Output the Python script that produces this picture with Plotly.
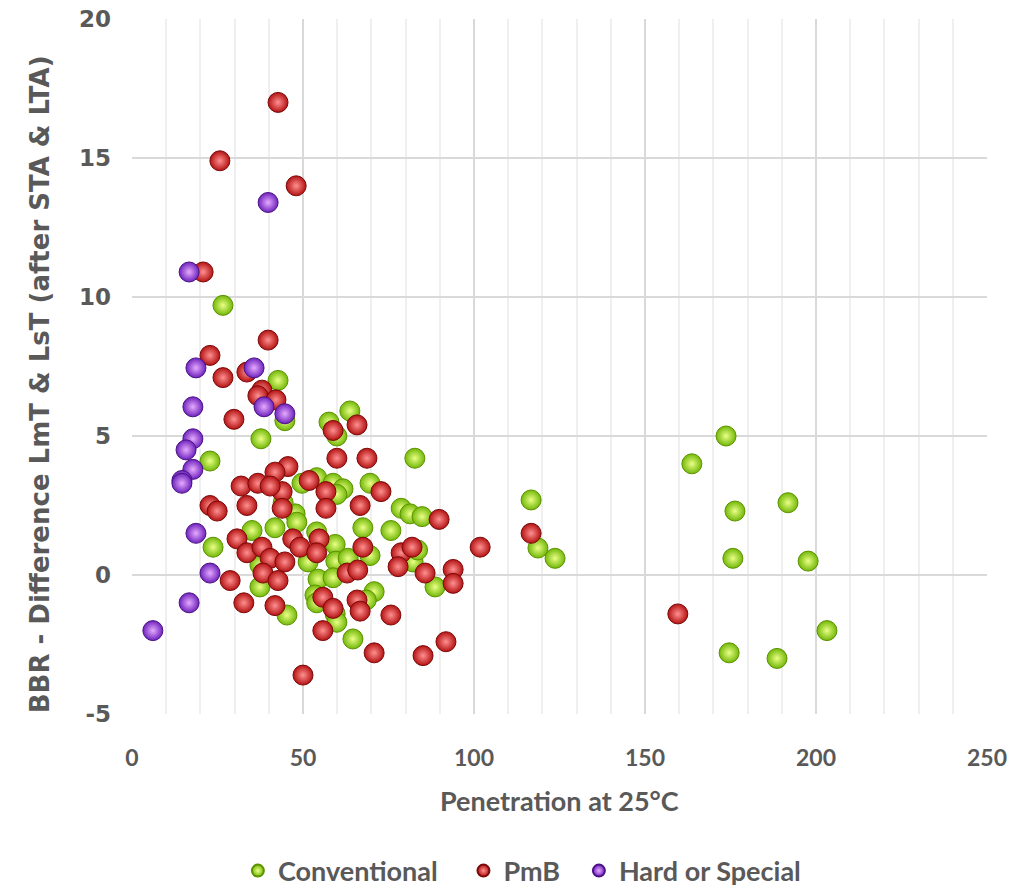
import plotly.graph_objects as go

# ---- data ----
conv_x = [26.6, 22.8, 23.7, 37.7, 42.7, 44.7, 57.6, 63.7, 59.9, 82.7,
          54.0, 49.7, 58.8, 61.7, 59.9, 69.6, 47.7, 78.7, 81.3, 84.8,
          67.5, 75.7, 41.8, 48.2, 35.1, 54.0, 59.4, 69.6, 82.2, 51.5,
          59.6, 63.2, 54.4, 58.8, 88.6, 37.4, 70.8, 53.5, 54.0, 59.4,
          59.9, 45.3, 64.6, 68.5, 83.5, 37.4, 44.2,
          116.7, 118.7, 123.7, 173.7, 163.7, 176.3, 191.8, 175.7, 197.7,
          203.2, 174.6, 188.6]
conv_y = [9.7, 4.1, 1.0, 4.9, 7.0, 5.55, 5.5, 5.9, 5.0, 4.2,
          3.5, 3.3, 3.3, 3.1, 2.9, 3.3, 2.2, 2.4, 2.2, 2.1,
          1.7, 1.6, 1.7, 1.9, 1.6, 1.55, 1.1, 0.7, 0.47, 0.47,
          0.5, 0.6, -0.15, -0.1, -0.43, -0.43, -0.6, -0.72, -1.0, -1.4,
          -1.7, -1.44, -2.3, -0.9, 0.9, 0.36, 2.6,
          2.7, 0.97, 0.6, 5.0, 4.0, 2.3, 2.6, 0.6, 0.5,
          -2.0, -2.8, -3.0]

pmb_x = [42.7, 25.7, 48.0, 20.8, 39.8, 22.8, 26.6, 33.6, 38.0, 36.8,
         42.1, 29.8, 58.8, 65.8, 59.9, 68.7, 45.6, 41.8, 51.8, 56.7,
         43.9, 72.8, 31.9, 36.8, 40.4, 22.8, 24.9, 33.6, 43.9, 56.7,
         66.7, 89.8, 47.0, 54.7, 49.1, 67.5, 78.7, 81.9, 101.8, 30.7,
         33.6, 38.0, 40.4, 44.7, 38.3, 42.7, 28.7, 54.0, 62.9, 66.0,
         77.8, 85.7, 93.9, 93.9, 55.8, 58.8, 65.8, 66.7, 75.7, 32.7,
         41.8, 55.8, 70.8, 85.1, 91.8, 50.0, 116.7, 159.6]
pmb_y = [17.0, 14.9, 14.0, 10.9, 8.45, 7.9, 7.1, 7.3, 6.65, 6.45,
         6.3, 5.6, 5.2, 5.4, 4.2, 4.2, 3.9, 3.7, 3.4, 3.0,
         3.0, 3.0, 3.2, 3.3, 3.2, 2.5, 2.3, 2.5, 2.4, 2.4,
         2.5, 2.0, 1.3, 1.3, 1.0, 1.0, 0.8, 1.0, 1.0, 1.3,
         0.8, 1.0, 0.6, 0.47, 0.07, -0.2, -0.2, 0.8, 0.07, 0.18,
         0.3, 0.07, 0.2, -0.3, -0.8, -1.2, -0.9, -1.3, -1.44, -1.0,
         -1.1, -2.0, -2.8, -2.9, -2.4, -3.6, 1.5, -1.4]

hard_x = [16.7, 39.8, 18.7, 35.7, 38.6, 17.8, 44.7, 17.8, 15.8, 17.8,
          14.6, 14.6, 18.7, 22.8, 16.7, 6.1]
hard_y = [10.9, 13.4, 7.45, 7.45, 6.05, 6.05, 5.8, 4.9, 4.5, 3.8,
          3.4, 3.3, 1.5, 0.07, -1.0, -2.0]

x_ticks = [0, 50, 100, 150, 200, 250]
x_tick_text = ["0", "50", "100", "150", "200", "250"]
y_ticks = [-5, 0, 5, 10, 15, 20]
y_tick_text = ["-5", "0", "5", "10", "15", "20"]

series = [
    ("Conventional", conv_x, conv_y, "#72b808", "#eaff86", "#5c9200", "\u00a0\u00a0\u00a0"),
    ("PmB", pmb_x, pmb_y, "#b41212", "#ff9090", "#7a0a0a", "\u00a0\u00a0"),
    ("Hard or Special", hard_x, hard_y, "#6e22bc", "#e6aaff", "#4a1285", ""),
]

fig = go.Figure()
for name, xs, ys, edge, center, line, pad in series:
    fig.add_trace(go.Scatter(
        x=xs, y=ys, mode="markers", name="<b>" + name + "</b>" + pad,
        marker=dict(size=20, color=edge,
                    gradient=dict(type="radial", color=center),
                    line=dict(color=line, width=1)),
    ))

tick_col = "#595959"
label_font = "Lato, sans-serif"
fig.update_layout(
    width=1030, height=886,
    margin=dict(l=132, r=43, t=19, b=172, autoexpand=False),
    paper_bgcolor="white", plot_bgcolor="white",
    showlegend=True,
    legend=dict(orientation="h", x=0.456, xanchor="center", y=-0.226, yanchor="middle",
                font=dict(family=label_font, size=27, color=tick_col),
                itemsizing="constant", traceorder="normal"),
    font=dict(family=label_font, color=tick_col),
    xaxis=dict(range=[0, 250], tickvals=x_ticks, ticktext=x_tick_text,
               showline=False, zeroline=False, automargin=False,
               showgrid=True, gridcolor="#d9d9d9", gridwidth=1.5,
               minor=dict(dtick=10, showgrid=True, gridcolor="#efefef", gridwidth=1.5),
               tickfont=dict(family=label_font, size=23, color=tick_col, weight="bold"),
               ticks="", ticklabelstandoff=28),
    yaxis=dict(range=[-5, 20], tickvals=y_ticks, ticktext=y_tick_text,
               showline=False, zeroline=False, automargin=False,
               showgrid=True, gridcolor="#d9d9d9", gridwidth=1.5,
               tickfont=dict(family="DejaVu Sans, sans-serif", size=23, color=tick_col, weight="bold"),
               ticks="", ticklabelstandoff=20),
    annotations=[
        dict(text="<b>Penetration at 25°C</b>", xref="paper", yref="paper",
             x=0.5, y=-0.124, xanchor="center", yanchor="middle", showarrow=False,
             font=dict(family=label_font, size=27, color=tick_col)),
        dict(text="<b>BBR - Difference LmT & LsT (after STA & LTA)</b>", xref="paper", yref="paper",
             x=-0.108, y=0.474, xanchor="center", yanchor="middle", textangle=-90, showarrow=False,
             font=dict(family="DejaVu Sans, sans-serif", size=26, color=tick_col)),
    ],
)

fig.write_html("out.html")
